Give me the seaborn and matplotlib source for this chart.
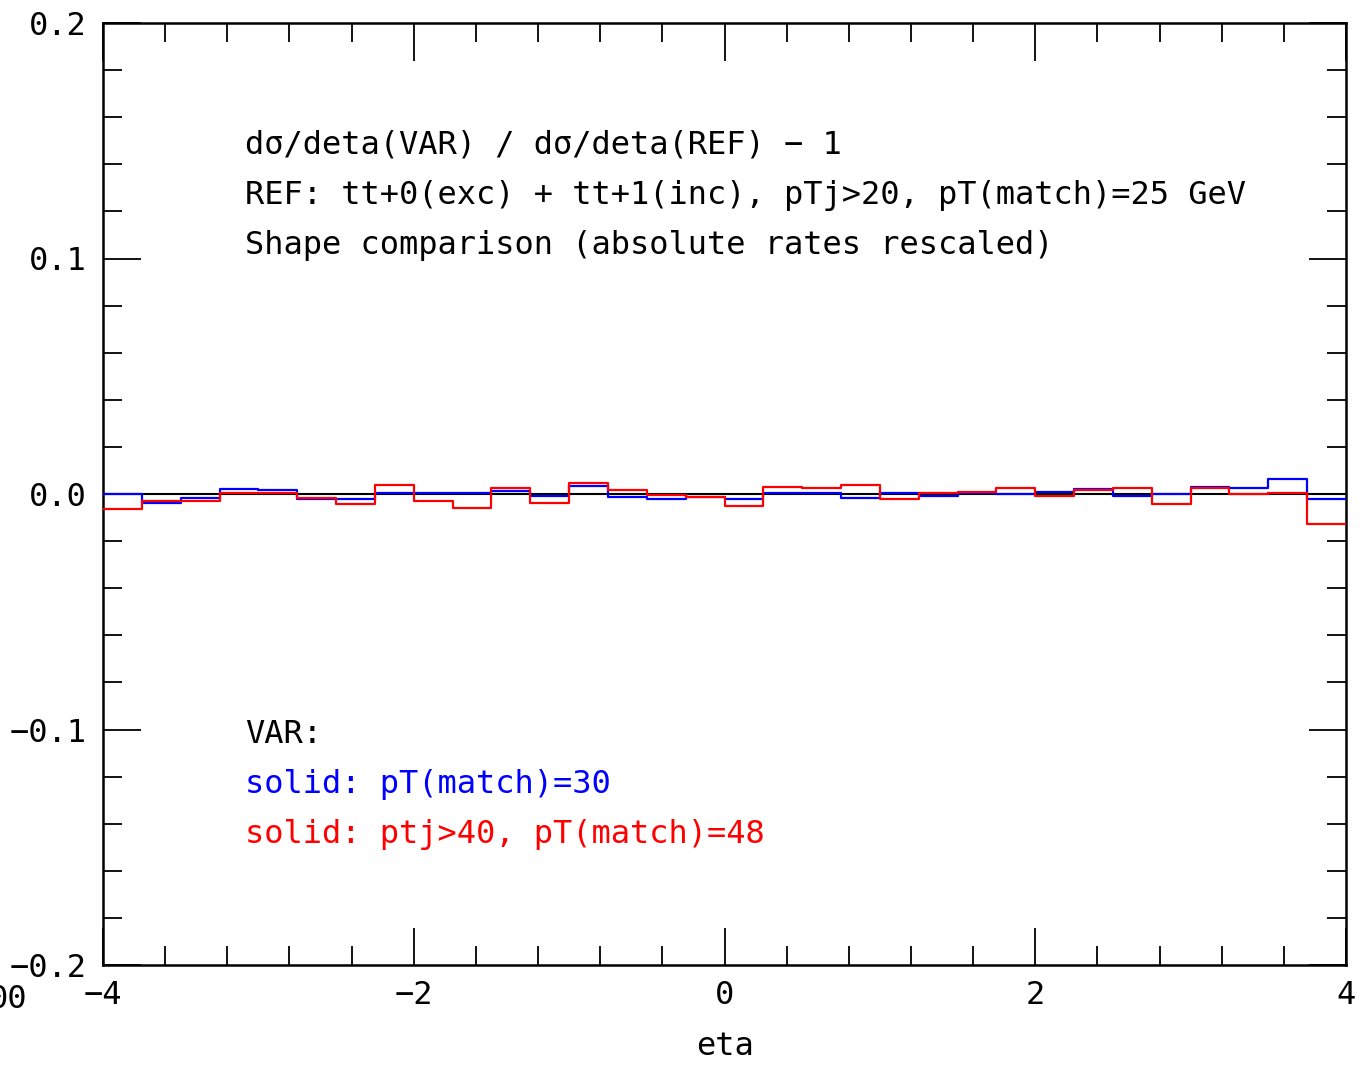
import numpy as np
import pandas as pd
import matplotlib
matplotlib.use("Agg")
import matplotlib.pyplot as plt
import seaborn as sns
from matplotlib.ticker import MultipleLocator

# ---- data ----
bin_edges = np.arange(-4.0, 4.0001, 0.25)
blue_vals = [0.0, -0.004, -0.0015, 0.002, 0.0015, -0.002, -0.002, 0.0003,
             0.0004, 0.0005, 0.0013, -0.0009, 0.0035, -0.0011, -0.002, -0.0011,
             -0.0023, 0.0005, 0.0003, -0.0018, 0.0005, -0.0007, 0.0005, -0.0001,
             0.001, 0.0023, -0.0007, 0.0, 0.0028, 0.0025, 0.0065, -0.0023]
red_vals = [-0.0063, -0.003, -0.003, 0.0004, 0.0003, -0.0018, -0.0042, 0.0037,
            -0.0028, -0.006, 0.0027, -0.004, 0.0046, 0.0017, -0.0004, -0.0014,
            -0.0051, 0.003, 0.0027, 0.004, -0.002, 0.0004, 0.001, 0.0027,
            -0.001, 0.0018, 0.0025, -0.0043, 0.0024, 0.0, 0.0003, -0.0127]
x_ticks = [-4, -2, 0, 2, 4]
x_ticklabels = ["\u22124", "\u22122", "0", "2", "4"]
y_ticks = [-0.2, -0.1, 0.0, 0.1, 0.2]
y_ticklabels = ["\u22120.2", "\u22120.1", "0.0", "0.1", "0.2"]
title_lines = ["d\u03c3/deta(VAR) / d\u03c3/deta(REF) \u2212 1",
               "REF: tt+0(exc) + tt+1(inc), pTj>20, pT(match)=25 GeV",
               "Shape comparison (absolute rates rescaled)"]
legend_lines = [("VAR:", "black"),
                ("solid: pT(match)=30", "#0000ff"),
                ("solid: ptj>40, pT(match)=48", "#ff0000")]

sns.set_style("ticks")
plt.rcParams['font.family'] = ['DejaVu Sans Mono', 'DejaVu Sans']

df_blue = pd.DataFrame({"eta": bin_edges, "val": list(blue_vals) + [blue_vals[-1]]})
df_red = pd.DataFrame({"eta": bin_edges, "val": list(red_vals) + [red_vals[-1]]})

W, H = 1361, 1065
FS = 23
fig = plt.figure(figsize=(W / 100, H / 100), dpi=100)
ax = fig.add_axes([103 / W, 1 - 965 / H, (1346 - 103) / W, (965 - 23) / H])

ax.axhline(0, color="black", lw=1.5, zorder=1)
sns.lineplot(data=df_blue, x="eta", y="val", ax=ax, color="#0000ff", lw=1.6,
             drawstyle="steps-post", zorder=3)
sns.lineplot(data=df_red, x="eta", y="val", ax=ax, color="#ff0000", lw=1.6,
             drawstyle="steps-post", zorder=4)

ax.set_xlim(-4, 4)
ax.set_ylim(-0.2, 0.2)
ax.set_xticks(x_ticks)
ax.set_xticklabels(x_ticklabels)
ax.set_yticks(y_ticks)
ax.set_yticklabels(y_ticklabels)
ax.xaxis.set_minor_locator(MultipleLocator(0.4))
ax.yaxis.set_minor_locator(MultipleLocator(0.02))
ax.tick_params(which="both", direction="in", top=True, right=True, width=1.3,
               labelsize=FS, colors="black")
ax.tick_params(which="major", length=27)
ax.tick_params(which="minor", length=14)
ax.tick_params(axis="y", pad=12)
ax.tick_params(axis="x", pad=11)
for s in ax.spines.values():
    s.set_linewidth(1.8)
    s.set_color("black")
ax.set_xlabel("eta", fontsize=FS, labelpad=14, color="black")
ax.set_ylabel("")

for i, t in enumerate(title_lines):
    fig.text(245 / W, 1 - (154 + 50 * i) / H, t, fontsize=FS, color="black",
             ha="left", va="baseline")
for i, (t, c) in enumerate(legend_lines):
    fig.text(245 / W, 1 - (743 + 50 * i) / H, t, fontsize=FS, color=c,
             ha="left", va="baseline")

fig.text(27 / W, 1 - 1008 / H, "00", fontsize=FS, ha="right", va="baseline",
         color="black")

fig.savefig("out.png", dpi=100, facecolor="white")
